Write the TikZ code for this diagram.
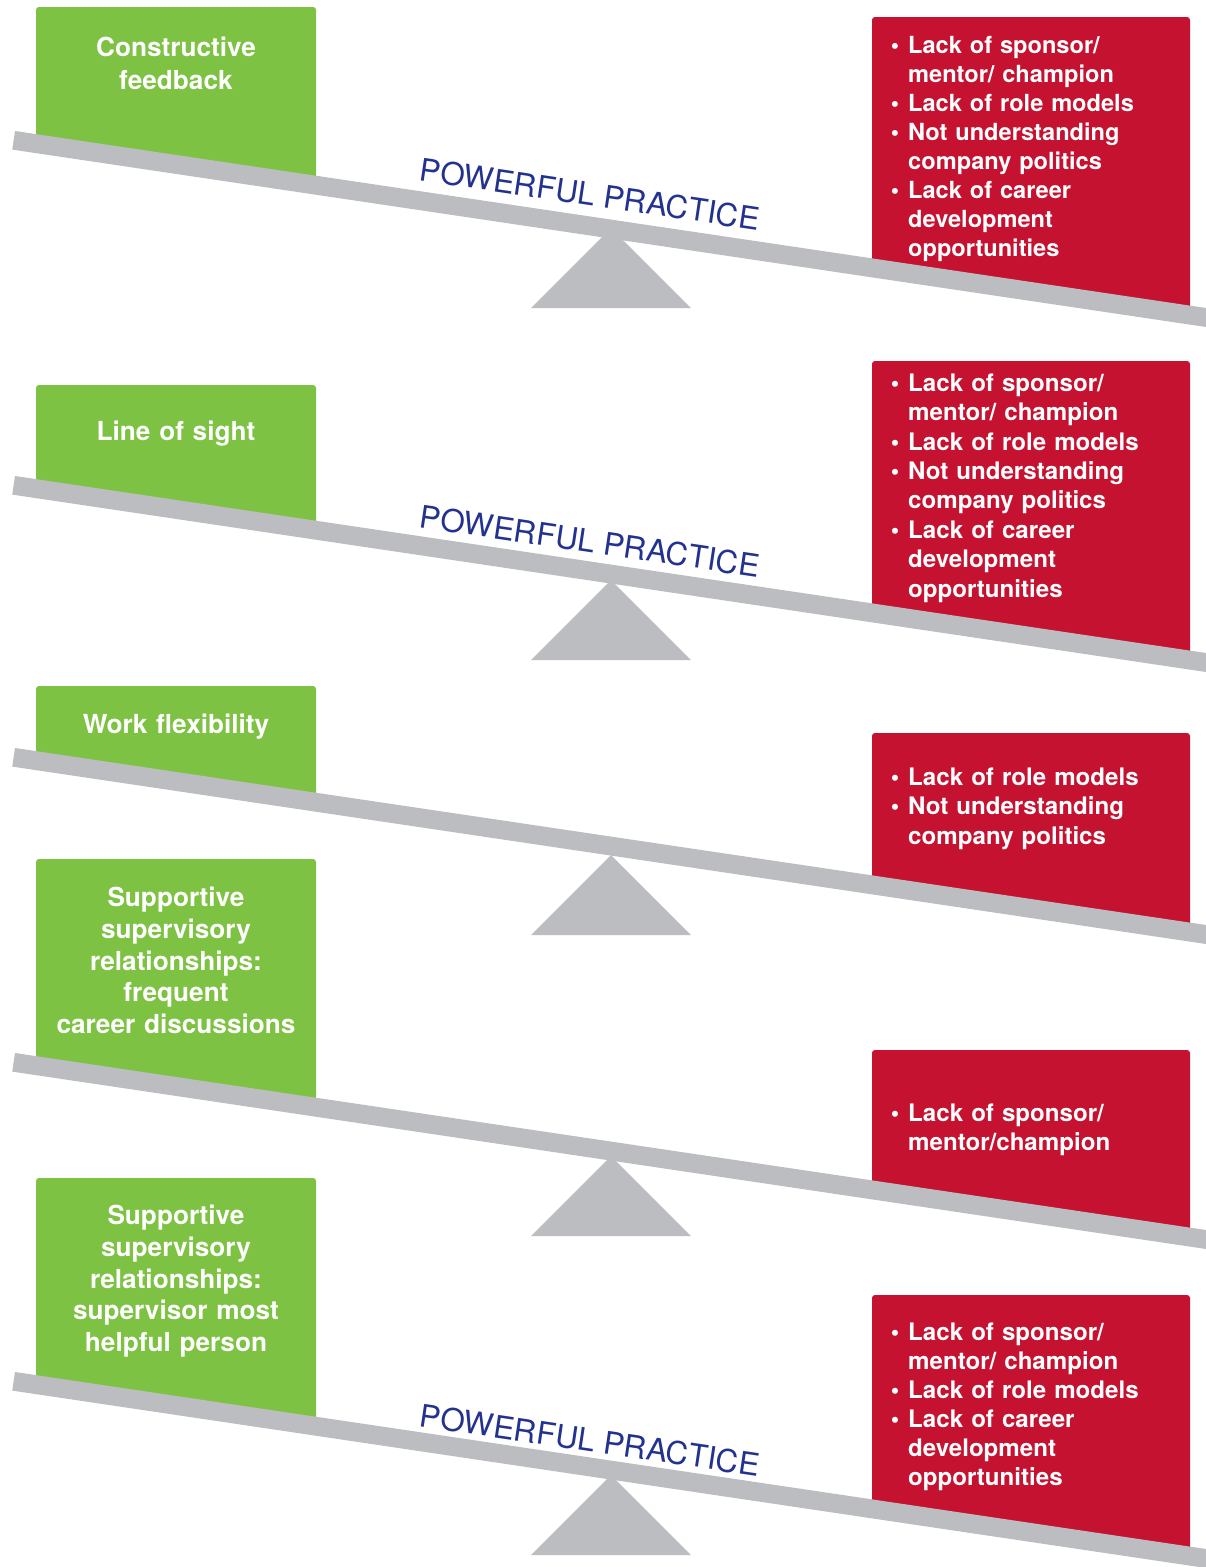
\documentclass[tikz,border=0pt]{standalone}
\usepackage{fontspec}
\setmainfont{TeX Gyre Heros}

\definecolor{pgreen}{HTML}{7DC242}
\definecolor{pred}{HTML}{C41230}
\definecolor{pgray}{HTML}{BBBDC0}
\definecolor{pblue}{HTML}{23318F}

% bullet hanging to the left of the text column
\newcommand\bul{\makebox[0pt][r]{•\hspace{9pt}}}

% one seesaw: #1 beam top at its left end, #2 green box top,
% #3 red box top, #4 fulcrum base
\newcommand\seesawshapes[4]{%
  \fill[greenbox] (36,{#1+0.1486*21+6}) -- (36,#2) -- (316,#2) -- (316,{#1+0.1486*301+6}) -- cycle;
  \fill[redbox] (872,{#1+0.1486*857+6}) -- (872,#3) -- (1190,#3) -- (1190,{#1+0.1486*1175+6}) -- cycle;
  \fill[fulcrum] (531,#4) -- (611,{#4-80}) -- (691,#4) -- cycle;
  \fill[ssbeam] (15,#1) -- (1215,{#1+0.1486*1200}) -- (1212.24,{#1+0.1486*1200+18.6}) -- (12.24,{#1+18.6}) -- cycle;
}

\tikzset{
  greenbox/.style={fill=pgreen, rounded corners=3pt},
  redbox/.style={fill=pred, rounded corners=3pt},
  fulcrum/.style={fill=pgray},
  ssbeam/.style={fill=pgray},
  gtext/.style={text=white, inner sep=0pt, anchor=base, text width=280pt, align=center},
  rtext/.style={text=white, inner sep=0pt, anchor=base west, text width=290pt, align=left},
  ptext/.style={text=pblue, inner sep=0pt, rotate=-8.45, font=\fontsize{31.3}{31.3}\selectfont},
}

\begin{document}
\begin{tikzpicture}[x=1pt, y=-1pt]
  \fill[white] (0,0) rectangle (1206,1567);
  \useasboundingbox (0,0) rectangle (1206,1567);
  \clip (0,0) rectangle (1206,1567);

  % shapes of the five seesaws
  \seesawshapes{131}{7}{17}{308}
  \seesawshapes{476}{385}{361}{660}
  \seesawshapes{748}{686}{733}{935}
  \seesawshapes{1053}{859}{1050}{1236}
  \seesawshapes{1372}{1178}{1295}{1555}

  % 1
  \node[gtext, font=\bfseries\fontsize{26.2}{32.7}\selectfont] (g1) at (176,56.7)
    {Constructive\\feedback};
  \node[rtext, font=\bfseries\fontsize{23.6}{29.06}\selectfont] (r1) at (908,53.3)
    {\bul Lack of sponsor/\\mentor/ champion\\\bul Lack of role models\\\bul Not understanding\\company politics\\\bul Lack of career\\development\\opportunities};
  \node[ptext] (p1) at (590,194) {POWERFUL PRACTICE};

  % 2
  \node[gtext, font=\bfseries\fontsize{26.2}{31.8}\selectfont] (g2) at (176,440)
    {Line of sight};
  \node[rtext, font=\bfseries\fontsize{24.1}{29.4}\selectfont] (r2) at (908,391.3)
    {\bul Lack of sponsor/\\mentor/ champion\\\bul Lack of role models\\\bul Not understanding\\company politics\\\bul Lack of career\\development\\opportunities};
  \node[ptext] (p2) at (590,541) {POWERFUL PRACTICE};

  % 3
  \node[gtext, font=\bfseries\fontsize{26.2}{31.8}\selectfont] (g3) at (176,733.3)
    {Work flexibility};
  \node[rtext, font=\bfseries\fontsize{24.1}{29.5}\selectfont] (r3) at (908,785)
    {\bul Lack of role models\\\bul Not understanding\\company politics};

  % 4
  \node[gtext, font=\bfseries\fontsize{26.2}{31.7}\selectfont] (g4) at (176,906.7)
    {Supportive\\supervisory\\relationships:\\frequent\\career discussions};
  \node[rtext, font=\bfseries\fontsize{24.1}{29}\selectfont] (r4) at (908,1121.3)
    {\bul Lack of sponsor/\\mentor/champion};

  % 5
  \node[gtext, font=\bfseries\fontsize{26.2}{31.85}\selectfont] (g5) at (176,1224.3)
    {Supportive\\supervisory\\relationships:\\supervisor most\\helpful person};
  \node[rtext, font=\bfseries\fontsize{24.1}{29}\selectfont] (r5) at (908,1340)
    {\bul Lack of sponsor/\\mentor/ champion\\\bul Lack of role models\\\bul Lack of career\\development\\opportunities};
  \node[ptext] (p5) at (590,1440) {POWERFUL PRACTICE};
\end{tikzpicture}
\end{document}
